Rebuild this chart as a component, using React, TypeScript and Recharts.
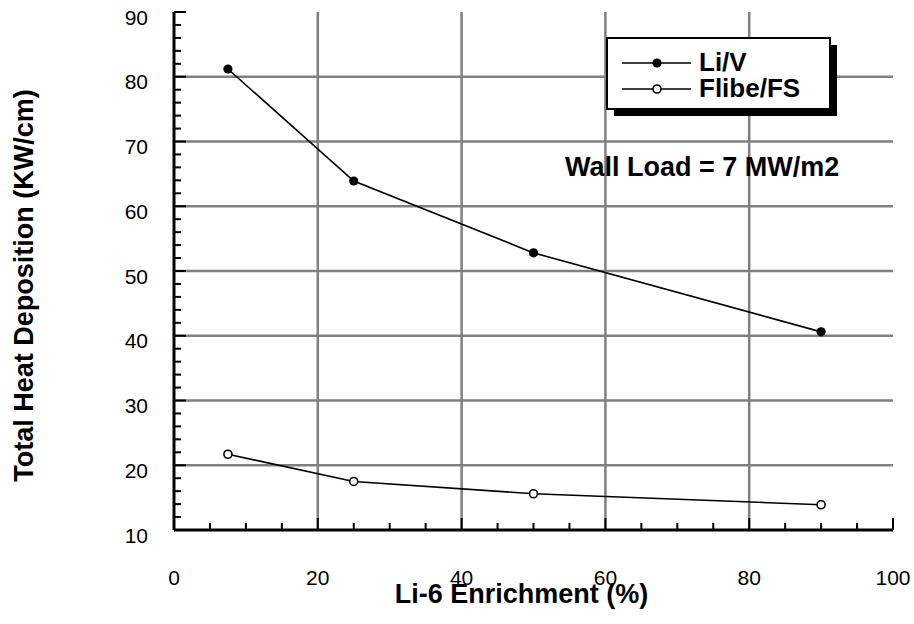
import React from 'react';
import { LineChart, Line, XAxis, YAxis, ReferenceLine, Legend } from 'recharts';

// Li-6 enrichment (%) and total heat deposition (KW/cm) per blanket concept
const enrichment = [7.5, 25, 50, 90];
const liV = [81.2, 63.9, 52.8, 40.6];
const flibeFS = [21.7, 17.5, 15.6, 13.9];

const xMajorTicks = [0, 20, 40, 60, 80, 100];
const xAllTicks = [0, 5, 10, 15, 20, 25, 30, 35, 40, 45, 50, 55, 60, 65, 70, 75, 80, 85, 90, 95, 100];
const yMajorTicks = [10, 20, 30, 40, 50, 60, 70, 80, 90];
const yAllTicks = [10, 12, 14, 16, 18, 20, 22, 24, 26, 28, 30, 32, 34, 36, 38, 40, 42, 44, 46, 48, 50, 52, 54, 56, 58, 60, 62, 64, 66, 68, 70, 72, 74, 76, 78, 80, 82, 84, 86, 88, 90];
const xGrid = [20, 40, 60, 80];
const yGrid = [20, 30, 40, 50, 60, 70, 80];

const seriesNames = ['Li/V', 'Flibe/FS'];
const annotation = 'Wall Load = 7 MW/m2';
const xTitle = 'Li-6 Enrichment (%)';
const yTitle = 'Total Heat Deposition (KW/cm)';

const data = enrichment.map((e, i) => ({ enrichment: e, liV: liV[i], flibe: flibeFS[i] }));

const FONT = '"Liberation Sans", Arial, Helvetica, sans-serif';
const MAJOR_LEN = 12;
const MINOR_LEN = 7;

const BottomTick = (props: any) => {
  const { x, y, payload } = props;
  const v = payload.value;
  const major = xMajorTicks.includes(v);
  return (
    <g>
      <line x1={x} y1={y} x2={x} y2={y - (major ? MAJOR_LEN : MINOR_LEN)} stroke="#000" strokeWidth={2} />
      {major && (
        <text x={x} y={y + 55} textAnchor="middle" fontSize={21} fontFamily={FONT} fill="#000">
          {v}
        </text>
      )}
    </g>
  );
};

const TopTick = (props: any) => {
  const { x, y, payload } = props;
  const major = xMajorTicks.includes(payload.value);
  return <line x1={x} y1={y} x2={x} y2={y + (major ? MAJOR_LEN : MINOR_LEN)} stroke="#000" strokeWidth={2} />;
};

const LeftTick = (props: any) => {
  const { x, y, payload } = props;
  const v = payload.value;
  const major = yMajorTicks.includes(v);
  return (
    <g>
      <line x1={x} y1={y} x2={x + (major ? MAJOR_LEN : MINOR_LEN)} y2={y} stroke="#000" strokeWidth={2} />
      {major && (
        <text x={x - 26} y={y + 12.5} textAnchor="end" fontSize={21} fontFamily={FONT} fill="#000">
          {v}
        </text>
      )}
    </g>
  );
};

const RightTick = (props: any) => {
  const { x, y, payload } = props;
  const major = yMajorTicks.includes(payload.value);
  return <line x1={x} y1={y} x2={x - (major ? MAJOR_LEN : MINOR_LEN)} y2={y} stroke="#000" strokeWidth={2} />;
};

const OpenDot = (props: any) => {
  const { cx, cy } = props;
  return <circle cx={cx} cy={cy} r={4} fill="#fff" stroke="#000" strokeWidth={1.6} />;
};

const FilledDot = (props: any) => {
  const { cx, cy } = props;
  return <circle cx={cx} cy={cy} r={4.6} fill="#000" stroke="none" />;
};

// Boxed legend with a drop shadow, drawn at (600, 30)
const LegendBox = () => (
  <svg width={250} height={100} style={{ display: 'block' }}>
    <rect x={14} y={15} width={223} height={71} fill="#000" />
    <rect x={7} y={8} width={223} height={71} fill="#fff" stroke="#000" strokeWidth={2} />
    <line x1={22} y1={33} x2={91} y2={33} stroke="#000" strokeWidth={1.6} />
    <circle cx={57} cy={33} r={4.6} fill="#000" />
    <text x={99} y={41} fontSize={26} fontWeight="bold" fontFamily={FONT} fill="#000">
      {seriesNames[0]}
    </text>
    <line x1={22} y1={59} x2={91} y2={59} stroke="#000" strokeWidth={1.6} />
    <circle cx={57} cy={59} r={4} fill="#fff" stroke="#000" strokeWidth={1.6} />
    <text x={99} y={67} fontSize={26} fontWeight="bold" fontFamily={FONT} fill="#000">
      {seriesNames[1]}
    </text>
  </svg>
);

export default function App() {
  return (
    <div style={{ position: 'absolute', left: 0, top: 0, width: 914, height: 624, background: '#fff' }}>
      <LineChart width={914} height={624} data={data} margin={{ top: 12, right: 21, left: 0, bottom: 0 }}>
        {xGrid.map((v) => (
          <ReferenceLine key={`gx${v}`} x={v} xAxisId="bottom" yAxisId="left" stroke="#808080" strokeWidth={2.5} />
        ))}
        {yGrid.map((v) => (
          <ReferenceLine key={`gy${v}`} y={v} xAxisId="bottom" yAxisId="left" stroke="#808080" strokeWidth={2.5} />
        ))}
        <XAxis
          xAxisId="bottom"
          orientation="bottom"
          type="number"
          dataKey="enrichment"
          domain={[0, 100]}
          ticks={xAllTicks}
          interval={0}
          height={94}
          tickSize={0}
          tickMargin={0}
          tickLine={false}
          tick={<BottomTick />}
          axisLine={{ stroke: '#000', strokeWidth: 3 }}
        />
        <XAxis
          xAxisId="top"
          orientation="top"
          type="number"
          dataKey="enrichment"
          domain={[0, 100]}
          ticks={xAllTicks}
          interval={0}
          height={0}
          tickSize={0}
          tickMargin={0}
          tickLine={false}
          tick={<TopTick />}
          axisLine={{ stroke: '#000', strokeWidth: 3 }}
        />
        <YAxis
          yAxisId="left"
          orientation="left"
          type="number"
          domain={[10, 90]}
          ticks={yAllTicks}
          interval={0}
          width={174}
          tickSize={0}
          tickMargin={0}
          tickLine={false}
          tick={<LeftTick />}
          axisLine={{ stroke: '#000', strokeWidth: 3 }}
        />
        <YAxis
          yAxisId="right"
          orientation="right"
          type="number"
          domain={[10, 90]}
          ticks={yAllTicks}
          interval={0}
          width={0}
          tickSize={0}
          tickMargin={0}
          tickLine={false}
          tick={<RightTick />}
          axisLine={{ stroke: '#000', strokeWidth: 3 }}
        />
        <Line
          xAxisId="bottom"
          yAxisId="left"
          type="linear"
          dataKey="liV"
          name={seriesNames[0]}
          stroke="#000"
          strokeWidth={1.6}
          dot={<FilledDot />}
          activeDot={false}
          isAnimationActive={false}
        />
        <Line
          xAxisId="bottom"
          yAxisId="left"
          type="linear"
          dataKey="flibe"
          name={seriesNames[1]}
          stroke="#000"
          strokeWidth={1.6}
          dot={<OpenDot />}
          activeDot={false}
          isAnimationActive={false}
        />
        <Legend
          layout="horizontal"
          verticalAlign="middle"
          align="center"
          content={() => <LegendBox />}
          wrapperStyle={{ position: 'absolute', left: 600, top: 30, width: 250, height: 100 }}
        />
      </LineChart>
      {/* axis titles and the wall-load annotation */}
      <svg width={914} height={624} style={{ position: 'absolute', left: 0, top: 0, pointerEvents: 'none' }}>
        <text x={521.5} y={603} textAnchor="middle" fontSize={27} fontWeight="bold" fontFamily={FONT} fill="#000">
          {xTitle}
        </text>
        <text x={33} y={285.5} transform="rotate(-90 33 285.5)" textAnchor="middle" fontSize={27} fontWeight="bold" fontFamily={FONT} fill="#000">
          {yTitle}
        </text>
        <text x={565} y={176} fontSize={27} fontWeight="bold" fontFamily={FONT} fill="#000">
          {annotation}
        </text>
      </svg>
    </div>
  );
}
